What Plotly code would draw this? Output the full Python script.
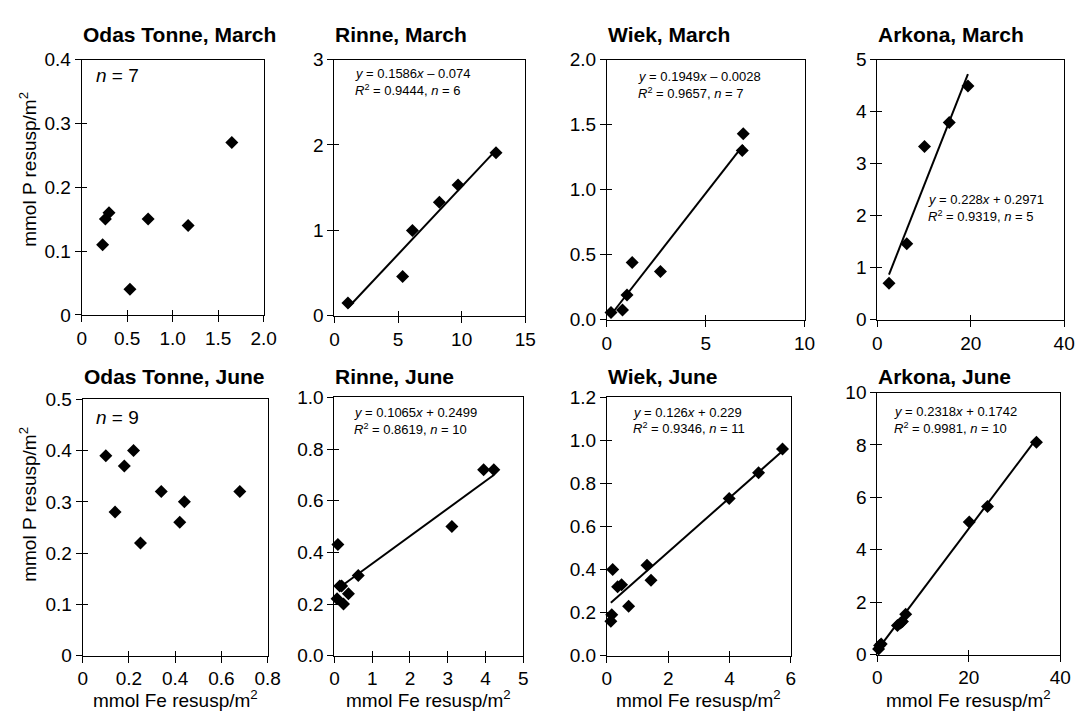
import plotly.graph_objects as go

W, H = 1087, 722
FONT = "Liberation Sans, Arial, Helvetica, sans-serif"

# ---------------- data ----------------
panel_titles = ["Odas Tonne, March", "Rinne, March", "Wiek, March", "Arkona, March",
                "Odas Tonne, June", "Rinne, June", "Wiek, June", "Arkona, June"]

ot_mar_x = [0.23, 0.26, 0.30, 0.53, 0.73, 1.17, 1.65]
ot_mar_y = [0.11, 0.15, 0.16, 0.04, 0.15, 0.14, 0.27]

ri_mar_x = [1.06, 5.36, 6.13, 8.25, 9.72, 12.7]
ri_mar_y = [0.15, 0.46, 1.00, 1.33, 1.53, 1.91]

wi_mar_x = [0.21, 0.79, 1.02, 1.28, 2.71, 6.85, 6.90]
wi_mar_y = [0.055, 0.075, 0.19, 0.44, 0.37, 1.30, 1.43]

ar_mar_x = [2.5, 6.3, 10.1, 15.4, 19.4]
ar_mar_y = [0.70, 1.46, 3.33, 3.79, 4.49]

ot_jun_x = [0.10, 0.14, 0.18, 0.22, 0.25, 0.34, 0.42, 0.44, 0.68]
ot_jun_y = [0.39, 0.28, 0.37, 0.40, 0.22, 0.32, 0.26, 0.30, 0.32]

ri_jun_x = [0.09, 0.07, 0.14, 0.19, 0.24, 0.37, 0.63, 3.11, 3.95, 4.22]
ri_jun_y = [0.43, 0.22, 0.27, 0.27, 0.20, 0.24, 0.31, 0.50, 0.72, 0.72]

wi_jun_x = [0.13, 0.16, 0.19, 0.35, 0.48, 0.71, 1.31, 1.44, 3.99, 4.95, 5.73]
wi_jun_y = [0.16, 0.19, 0.40, 0.32, 0.33, 0.23, 0.42, 0.35, 0.73, 0.85, 0.96]

ar_jun_x = [0.28, 0.5, 0.85, 4.4, 5.1, 5.5, 6.2, 20.1, 24.1, 34.8]
ar_jun_y = [0.22, 0.35, 0.41, 1.11, 1.21, 1.27, 1.54, 5.06, 5.65, 8.10]

xs = [ot_mar_x, ri_mar_x, wi_mar_x, ar_mar_x, ot_jun_x, ri_jun_x, wi_jun_x, ar_jun_x]
ys = [ot_mar_y, ri_mar_y, wi_mar_y, ar_mar_y, ot_jun_y, ri_jun_y, wi_jun_y, ar_jun_y]

fit_slopes = [None, 0.1586, 0.1949, 0.228, None, 0.1065, 0.126, 0.2318]
fit_intercepts = [None, -0.074, -0.0028, 0.2971, None, 0.2499, 0.229, 0.1742]

eq_line1 = [None,
            "<i>y</i> = 0.1586<i>x</i> – 0.074",
            "<i>y</i> = 0.1949<i>x</i> – 0.0028",
            "<i>y</i> = 0.228<i>x</i> + 0.2971",
            None,
            "<i>y</i> = 0.1065<i>x</i> + 0.2499",
            "<i>y</i> = 0.126<i>x</i> + 0.229",
            "<i>y</i> = 0.2318<i>x</i> + 0.1742"]
eq_line2 = [None,
            "<i>R</i><sup>2</sup> = 0.9444, <i>n</i> = 6",
            "<i>R</i><sup>2</sup> = 0.9657, <i>n</i> = 7",
            "<i>R</i><sup>2</sup> = 0.9319, <i>n</i> = 5",
            None,
            "<i>R</i><sup>2</sup> = 0.8619, <i>n</i> = 10",
            "<i>R</i><sup>2</sup> = 0.9346, <i>n</i> = 11",
            "<i>R</i><sup>2</sup> = 0.9981, <i>n</i> = 10"]
n_labels = ["<i>n</i> = 7", None, None, None, "<i>n</i> = 9", None, None, None]

x_tickvals = [[0, 0.5, 1.0, 1.5, 2.0], [0, 5, 10, 15], [0, 5, 10], [0, 20, 40],
              [0, 0.2, 0.4, 0.6, 0.8], [0, 1, 2, 3, 4, 5], [0, 2, 4, 6], [0, 20, 40]]
x_ticktext = [["0", "0.5", "1.0", "1.5", "2.0"], ["0", "5", "10", "15"], ["0", "5", "10"],
              ["0", "20", "40"], ["0", "0.2", "0.4", "0.6", "0.8"], ["0", "1", "2", "3", "4", "5"],
              ["0", "2", "4", "6"], ["0", "20", "40"]]
y_tickvals = [[0, 0.1, 0.2, 0.3, 0.4], [0, 1, 2, 3], [0, 0.5, 1.0, 1.5, 2.0], [0, 1, 2, 3, 4, 5],
              [0, 0.1, 0.2, 0.3, 0.4, 0.5], [0, 0.2, 0.4, 0.6, 0.8, 1.0],
              [0, 0.2, 0.4, 0.6, 0.8, 1.0, 1.2], [0, 2, 4, 6, 8, 10]]
y_ticktext = [["0", "0.1", "0.2", "0.3", "0.4"], ["0", "1", "2", "3"],
              ["0.0", "0.5", "1.0", "1.5", "2.0"], ["0", "1", "2", "3", "4", "5"],
              ["0", "0.1", "0.2", "0.3", "0.4", "0.5"], ["0.0", "0.2", "0.4", "0.6", "0.8", "1.0"],
              ["0.0", "0.2", "0.4", "0.6", "0.8", "1.0", "1.2"], ["0", "2", "4", "6", "8", "10"]]

y_title = "mmol P resusp/m<sup>2</sup>"
x_title = "mmol Fe resusp/m<sup>2</sup>"

# ---------------- layout (pixel boxes: left, right, top, bottom) ----------------
boxes = [(78, 263, 51, 314), (335, 529, 51, 315), (612, 813, 51, 319), (887, 1077, 51, 319),
         (79, 267, 401, 665), (335, 527, 399, 665), (612, 799, 399, 665), (887, 1073, 394, 664)]
eq_pos = [None, (354, 65, 82), (642, 68, 85), (936, 195, 212), None,
          (353, 415, 432), (637, 415, 431), (902, 414, 431)]
n_pos = [(90, 67), None, None, None, (91, 420), None, None, None]
title_y = [25, 25, 25, 25, 377, 377, 377, 377]

TICK = 19
EQ = 13
fig = go.Figure()
annotations = []
layout = {}
for i in range(8):
    ax = "" if i == 0 else str(i + 1)
    L, R, T, B = boxes[i]
    xmax = x_tickvals[i][-1]
    ymax = y_tickvals[i][-1]
    if fit_slopes[i] is not None:
        x0, x1 = min(xs[i]), max(xs[i])
        fig.add_trace(go.Scatter(
            x=[x0, x1], y=[fit_slopes[i] * x0 + fit_intercepts[i], fit_slopes[i] * x1 + fit_intercepts[i]],
            mode="lines", line=dict(color="black", width=2), showlegend=False,
            xaxis="x" + ax, yaxis="y" + ax, hoverinfo="skip"))
    fig.add_trace(go.Scatter(
        x=xs[i], y=ys[i], mode="markers",
        marker=dict(symbol="diamond", size=10, color="black"),
        showlegend=False, xaxis="x" + ax, yaxis="y" + ax, cliponaxis=False))
    common = dict(showgrid=False, zeroline=False, showline=True, linecolor="black", linewidth=1,
                  mirror=True, ticks="outside", ticklen=6, tickcolor="black", tickwidth=1,
                  tickfont=dict(size=TICK, color="black", family=FONT), fixedrange=True)
    layout["xaxis" + ax] = dict(domain=[L / W, R / W], range=[0, xmax], anchor="y" + ax,
                                tickmode="array", tickvals=x_tickvals[i], ticktext=x_ticktext[i], **common)
    layout["yaxis" + ax] = dict(domain=[1 - B / H, 1 - T / H], range=[0, ymax], anchor="x" + ax,
                                tickmode="array", tickvals=y_tickvals[i], ticktext=y_ticktext[i], **common)
    # inside tick halves (crossing tick marks) via overlaying axes
    k = str(i + 9)
    inner = dict(showgrid=False, zeroline=False, showline=False, ticks="inside", ticklen=5,
                 tickcolor="black", tickwidth=1, showticklabels=False, fixedrange=True, tickmode="array")
    layout["xaxis" + k] = dict(overlaying="x" + ax, anchor="y" + ax, range=[0, xmax],
                               tickvals=x_tickvals[i], side="bottom", **inner)
    layout["yaxis" + k] = dict(overlaying="y" + ax, anchor="x" + ax, range=[0, ymax],
                               tickvals=y_tickvals[i], side="left", **inner)
    fig.add_trace(go.Scatter(x=[None], y=[None], xaxis="x" + k, yaxis="y" + k,
                             showlegend=False, hoverinfo="skip", mode="markers"))
    # panel title
    annotations.append(dict(text="<b>" + panel_titles[i] + "</b>", xref="paper", yref="paper",
                            x=(L - 1) / W, y=1 - title_y[i] / H, xanchor="left", yanchor="middle",
                            showarrow=False, font=dict(size=21, color="black", family=FONT)))
    if eq_pos[i] is not None:
        ex, ey1, ey2 = eq_pos[i]
        annotations.append(dict(text=eq_line1[i], xref="paper", yref="paper", x=ex / W, y=1 - ey1 / H,
                                xanchor="left", yanchor="middle", showarrow=False,
                                font=dict(size=EQ, color="black", family=FONT)))
        annotations.append(dict(text=eq_line2[i], xref="paper", yref="paper", x=ex / W, y=1 - ey2 / H,
                                xanchor="left", yanchor="middle", showarrow=False,
                                font=dict(size=EQ, color="black", family=FONT)))
    if n_pos[i] is not None:
        nx, ny = n_pos[i]
        annotations.append(dict(text=n_labels[i], xref="paper", yref="paper", x=nx / W, y=1 - ny / H,
                                xanchor="left", yanchor="middle", showarrow=False,
                                font=dict(size=TICK, color="black", family=FONT)))
    if i >= 4:
        annotations.append(dict(text=x_title, xref="paper", yref="paper", x=(L + R) / 2 / W, y=1 - 710 / H,
                                xanchor="center", yanchor="middle", showarrow=False,
                                font=dict(size=TICK, color="black", family=FONT)))

for yc in (164, 509):
    annotations.append(dict(text=y_title, xref="paper", yref="paper", x=24 / W, y=1 - yc / H,
                            xanchor="center", yanchor="middle", textangle=-90, showarrow=False,
                            font=dict(size=TICK, color="black", family=FONT)))

fig.update_layout(width=W, height=H, margin=dict(l=0, r=0, t=0, b=0),
                  plot_bgcolor="white", paper_bgcolor="white",
                  font=dict(family=FONT, color="black"), annotations=annotations, **layout)

fig.write_html("out.html")
